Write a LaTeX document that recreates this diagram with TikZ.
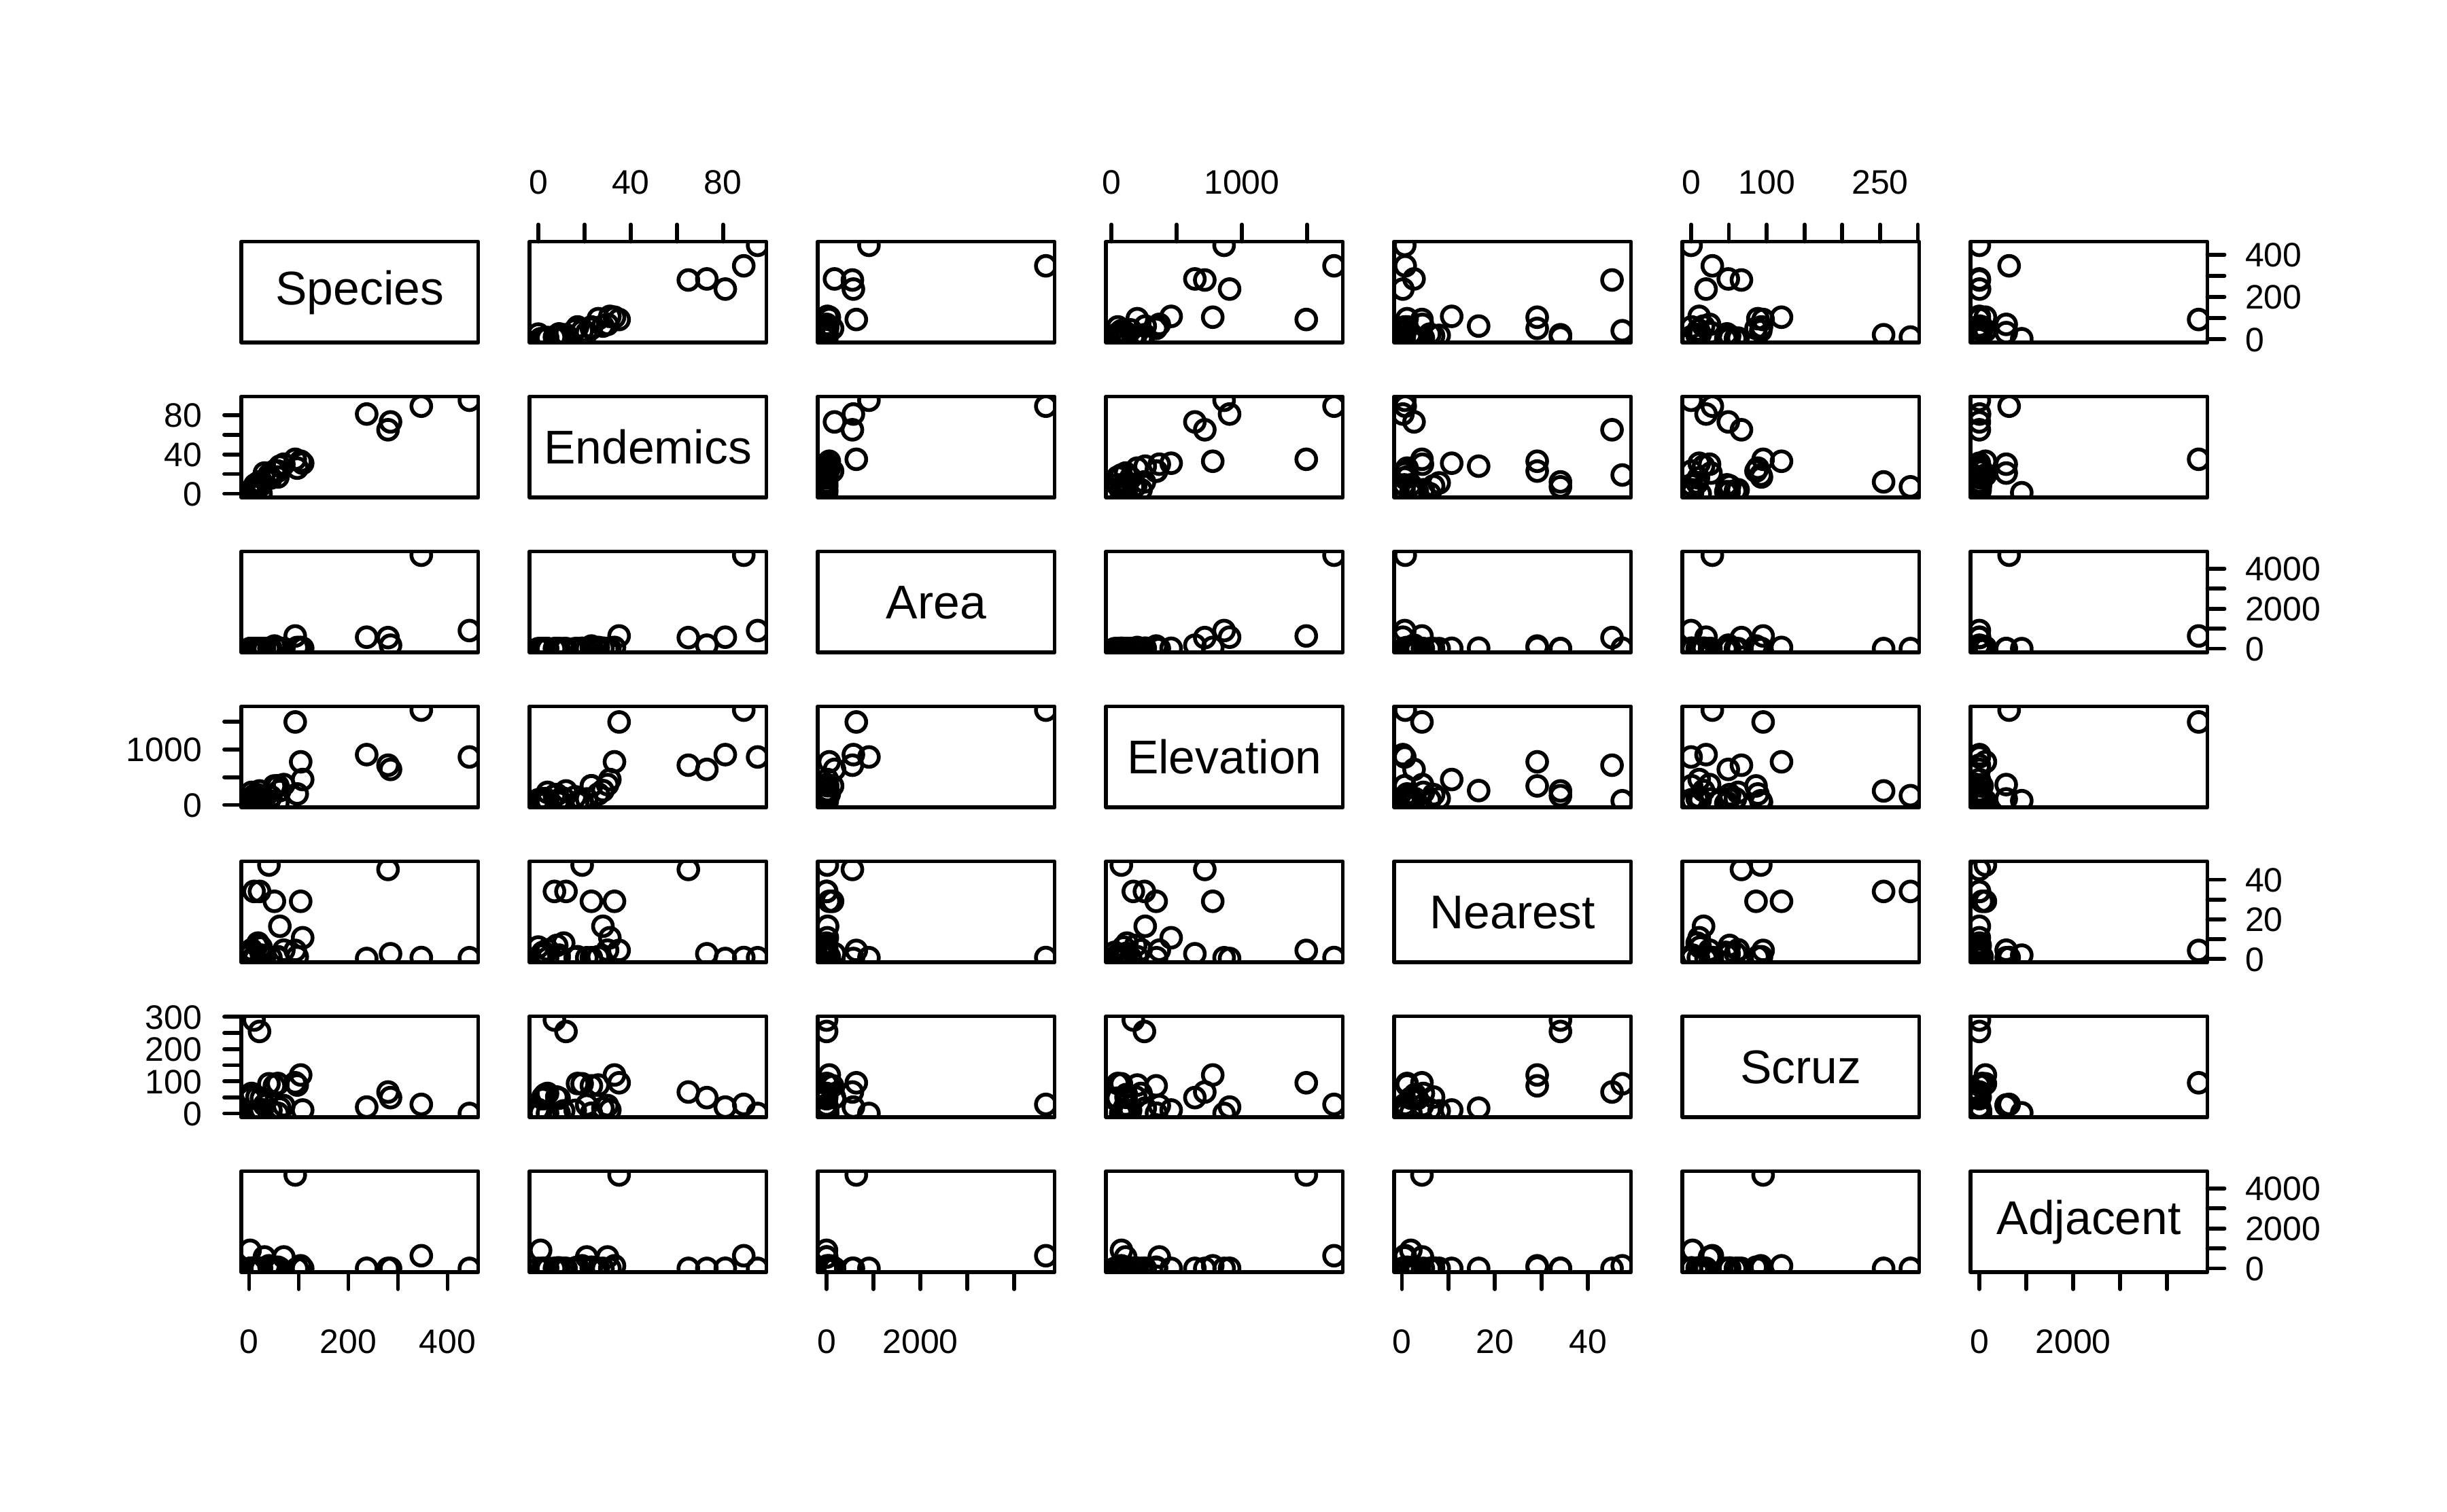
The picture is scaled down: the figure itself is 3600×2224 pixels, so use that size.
\documentclass[tikz,border=0pt]{standalone}
\usepackage{fontspec}
\setmainfont{Liberation Sans}
\tikzset{
  panelbox/.style={draw=black, line width=0.058cm, line join=round},
  ptmark/.style={draw=black, line width=0.056cm},
  tickline/.style={draw=black, line width=0.058cm, line cap=round},
  ticklab/.style={inner sep=0pt, outer sep=0pt, font=\fontsize{14.2}{16}\selectfont},
  varlab/.style={inner sep=0pt, outer sep=0pt, font=\fontsize{19.8}{22}\selectfont},
}
\def\galadata{58/23/25.09/346/0.6/0.6/1.84,
31/21/1.24/109/0.6/26.3/572.33,
3/3/0.21/114/2.8/58.7/0.78,
25/9/0.10/46/1.9/47.4/0.18,
2/1/0.05/77/1.9/1.9/903.82,
18/11/0.34/119/8.0/8.0/1.84,
24/0/0.08/93/6.0/12.0/0.34,
10/7/2.33/168/34.1/290.2/2.85,
8/4/0.03/71/0.4/0.4/17.95,
2/2/0.18/112/2.6/50.2/0.10,
97/26/58.27/198/1.1/88.3/0.57,
93/35/634.49/1494/4.3/95.3/4669.32,
58/17/0.57/49/1.1/93.1/58.27,
5/4/0.78/227/4.6/62.2/0.21,
40/19/17.35/76/47.4/92.2/129.49,
347/89/4669.32/1707/0.7/28.1/634.49,
51/23/129.49/343/29.1/85.9/59.56,
2/2/0.01/25/3.3/45.9/0.10,
104/33/59.56/777/29.1/119.6/129.49,
108/31/17.95/458/10.7/10.7/0.03,
12/9/0.23/94/0.5/0.6/25.09,
70/30/4.89/367/4.4/24.4/572.33,
280/65/551.62/716/45.2/66.6/0.57,
237/81/572.33/906/0.2/19.8/4.89,
444/95/903.82/864/0.6/0.0/0.52,
62/28/24.08/259/16.5/16.5/0.52,
285/73/170.92/640/2.6/49.2/0.10,
44/16/1.84/147/0.6/9.6/25.09,
16/8/1.24/186/6.8/50.9/17.95,
21/12/2.85/253/34.1/254.7/2.33}
\def\lows{{-15.68,-3.8,-186.7624,-42.28,-1.688,-11.608,-186.7416}}
\def\spans{{477.36,102.6,5042.8548,1816.56,50.976,313.416,5042.8332}}
% axis helpers
\newcommand\TopAxis[3]{%
  \pgfmathsetmacro\axl{355+424*#1}%
  \pgfmathsetmacro\alo{\lows[#1]}%
  \pgfmathsetmacro\asp{\spans[#1]}%
  \foreach \t in {#2}{%
    \pgfmathsetmacro\tx{\axl+(\t-\alo)/\asp*348.5}%
    \draw[tickline] (\tx,355.5) -- (\tx,330.5);}%
  \foreach \t in {#3}{%
    \pgfmathsetmacro\tx{\axl+(\t-\alo)/\asp*348.5}%
    \node[ticklab, anchor=base] (top#1-\t) at (\tx,285.4) {\t};}%
}
\newcommand\BotAxis[3]{%
  \pgfmathsetmacro\axl{355+424*#1}%
  \pgfmathsetmacro\alo{\lows[#1]}%
  \pgfmathsetmacro\asp{\spans[#1]}%
  \foreach \t in {#2}{%
    \pgfmathsetmacro\tx{\axl+(\t-\alo)/\asp*348.5}%
    \draw[tickline] (\tx,1872) -- (\tx,1897);}%
  \foreach \t in {#3}{%
    \pgfmathsetmacro\tx{\axl+(\t-\alo)/\asp*348.5}%
    \node[ticklab, anchor=base] (bot#1-\t) at (\tx,1991.5) {\t};}%
}
\newcommand\LeftAxis[3]{%
  \pgfmathsetmacro\ayb{504+228*#1}%
  \pgfmathsetmacro\alo{\lows[#1]}%
  \pgfmathsetmacro\asp{\spans[#1]}%
  \foreach \t in {#2}{%
    \pgfmathsetmacro\ty{\ayb-(\t-\alo)/\asp*148.5}%
    \draw[tickline] (355,\ty) -- (330,\ty);}%
  \foreach \t in {#3}{%
    \pgfmathsetmacro\ty{\ayb-(\t-\alo)/\asp*148.5+17.9}%
    \node[ticklab, anchor=base east] (left#1-\t) at (297,\ty) {\t};}%
}
\newcommand\RightAxis[3]{%
  \pgfmathsetmacro\ayb{504+228*#1}%
  \pgfmathsetmacro\alo{\lows[#1]}%
  \pgfmathsetmacro\asp{\spans[#1]}%
  \foreach \t in {#2}{%
    \pgfmathsetmacro\ty{\ayb-(\t-\alo)/\asp*148.5}%
    \draw[tickline] (3247.5,\ty) -- (3272.5,\ty);}%
  \foreach \t in {#3}{%
    \pgfmathsetmacro\ty{\ayb-(\t-\alo)/\asp*148.5+17.9}%
    \node[ticklab, anchor=base west] (right#1-\t) at (3303,\ty) {\t};}%
}
\begin{document}
\begin{tikzpicture}[x=0.01cm,y=-0.01cm]
\useasboundingbox[fill=white] (0,0) rectangle (3600,2224);
% points
\foreach \i in {0,...,6}{
  \foreach \j in {0,...,6}{
    \ifnum\i=\j\relax\else
      \pgfmathsetmacro\xl{355+424*\j}
      \pgfmathsetmacro\yb{504+228*\i}
      \pgfmathsetmacro\lx{\lows[\j]}
      \pgfmathsetmacro\sx{\spans[\j]}
      \pgfmathsetmacro\ly{\lows[\i]}
      \pgfmathsetmacro\sy{\spans[\i]}
      \begin{scope}
        \clip (\xl,\yb) rectangle ++(348.5,-148.5);
        \foreach \vA/\vB/\vC/\vD/\vE/\vF/\vG in \galadata {
          \pgfmathsetmacro\vx{{\vA,\vB,\vC,\vD,\vE,\vF,\vG}[\j]}
          \pgfmathsetmacro\vy{{\vA,\vB,\vC,\vD,\vE,\vF,\vG}[\i]}
          \pgfmathsetmacro\px{\xl+(\vx-\lx)/\sx*348.5}
          \pgfmathsetmacro\py{\yb-(\vy-\ly)/\sy*148.5}
          \draw[ptmark] (\px,\py) circle[radius=0.145cm];
        }
      \end{scope}
    \fi
  }
}
% panel boxes
\foreach \i in {0,...,6}{
  \foreach \j in {0,...,6}{
    \draw[panelbox] ({355+424*\j},{355.5+228*\i}) rectangle ++(348.5,148.5);
  }
}
% variable labels
\foreach \k/\nm/\off in {0/Species/19,1/Endemics/25,2/Area/25,3/Elevation/25,4/Nearest/25,5/Scruz/25,6/Adjacent/19}{
  \node[varlab, anchor=base] (lab\k) at ({355+424*\k+174.25},{355.5+228*\k+74.25+\off}) {\nm};
}
% axes
\TopAxis{1}{0,20,40,60,80}{0,40,80}
\TopAxis{3}{0,500,1000,1500}{0,1000}
\TopAxis{5}{0,50,100,150,200,250,300}{0,100,250}
\BotAxis{0}{0,100,200,300,400}{0,200,400}
\BotAxis{2}{0,1000,2000,3000,4000}{0,2000}
\BotAxis{4}{0,10,20,30,40}{0,20,40}
\BotAxis{6}{0,1000,2000,3000,4000}{0,2000}
\LeftAxis{1}{0,20,40,60,80}{0,40,80}
\LeftAxis{3}{0,500,1000,1500}{0,1000}
\LeftAxis{5}{0,50,100,150,200,250,300}{0,100,200,300}
\RightAxis{0}{0,100,200,300,400}{0,200,400}
\RightAxis{2}{0,1000,2000,3000,4000}{0,2000,4000}
\RightAxis{4}{0,10,20,30,40}{0,20,40}
\RightAxis{6}{0,1000,2000,3000,4000}{0,2000,4000}
\end{tikzpicture}
\end{document}
